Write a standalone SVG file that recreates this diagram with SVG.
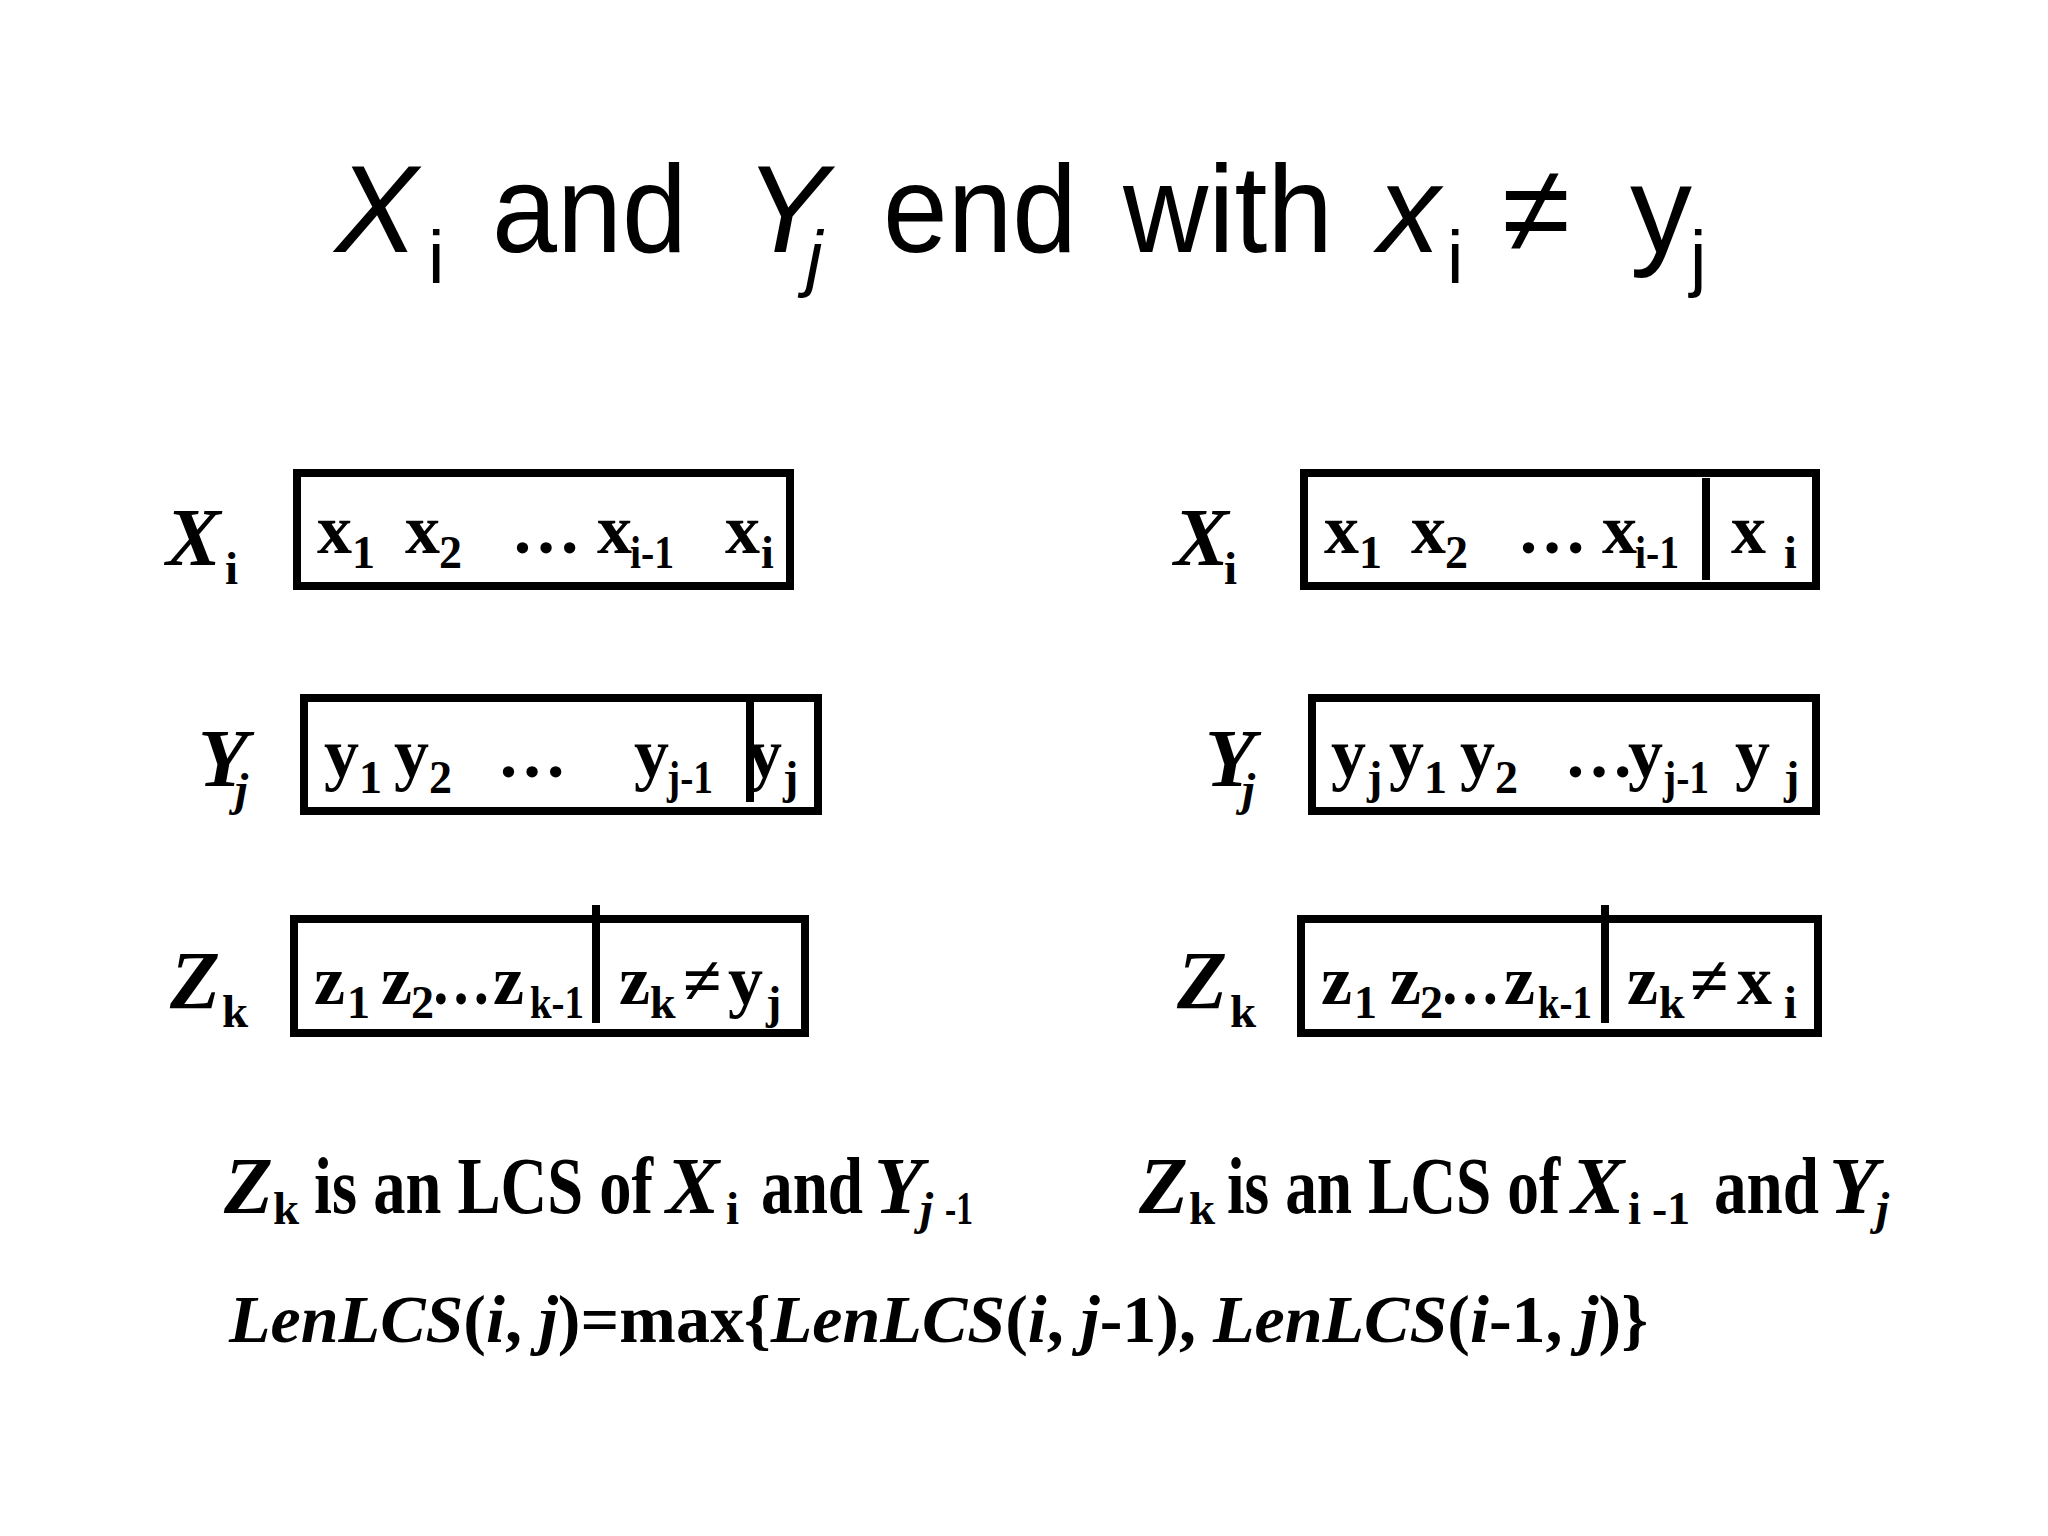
<svg xmlns="http://www.w3.org/2000/svg" width="2048" height="1536" viewBox="0 0 2048 1536">
<style>
.t{font-family:"Liberation Sans",Arial,sans-serif;font-size:124px;fill:#000}
.ts{font-family:"Liberation Sans",Arial,sans-serif;font-size:74px;fill:#000}
.lab{font-family:"Liberation Serif","Times New Roman",serif;font-weight:bold;font-style:italic;font-size:82px;fill:#000}
.lsub{font-family:"Liberation Serif","Times New Roman",serif;font-weight:bold;font-size:47px;fill:#000}
.c{font-family:"Liberation Serif","Times New Roman",serif;font-weight:bold;font-size:70px;fill:#000}
.cs{font-family:"Liberation Serif","Times New Roman",serif;font-weight:bold;font-size:46px;fill:#000}
.cap{font-family:"Liberation Serif","Times New Roman",serif;font-weight:bold;font-size:80px;fill:#000}
.i{font-style:italic}
.box{fill:none;stroke:#000;stroke-width:8}
.div{stroke:#000;stroke-width:8}
</style>
<rect width="2048" height="1536" fill="#fff"/>
<g id="title">
<text class="t i" x="335" y="252">X</text>
<text class="ts" x="428" y="283">i</text>
<text class="t" x="492" y="252" textLength="195" lengthAdjust="spacingAndGlyphs">and</text>
<text class="t i" x="745" y="252">Y</text>
<text class="ts i" x="806" y="283">j</text>
<text class="t" x="883" y="252" textLength="194" lengthAdjust="spacingAndGlyphs">end</text>
<text class="t" x="1123" y="252" textLength="210" lengthAdjust="spacingAndGlyphs">with</text>
<text class="t i" x="1378" y="252">x</text>
<text class="ts" x="1447" y="283">i</text>
<text class="t" x="1502" y="252">≠</text>
<text class="t" x="1630" y="252">y</text>
<text class="ts" x="1690" y="283">j</text>
</g>
<g id="connectors"/>
<g id="left-X">
<text class="lab" x="166" y="565">X</text><text class="lsub" x="225" y="584">i</text>
<rect class="box" x="297" y="473" width="493" height="113"/>
<text class="c" x="317" y="553">x</text><text class="cs" x="352" y="568">1</text>
<text class="c" x="405" y="553">x</text><text class="cs" x="439" y="568">2</text>
<text class="c" x="511" y="553">…</text>
<text class="c" x="597" y="553">x</text><text class="cs" x="630" y="568" textLength="44" lengthAdjust="spacingAndGlyphs">i-1</text>
<text class="c" x="725" y="553">x</text><text class="cs" x="761" y="568">i</text>
</g>
<g id="left-Y">
<text class="lab" x="198" y="786">Y</text><text class="lsub i" x="235" y="805">j</text>
<rect class="box" x="304" y="698" width="514" height="113"/>
<line class="div" x1="750" y1="702" x2="750" y2="802"/>
<text class="c" x="324" y="777">y</text><text class="cs" x="359" y="793">1</text>
<text class="c" x="394" y="777">y</text><text class="cs" x="429" y="793">2</text>
<text class="c" x="497" y="777">…</text>
<text class="c" x="634" y="777">y</text><text class="cs" x="667" y="793" textLength="46" lengthAdjust="spacingAndGlyphs">j-1</text>
<text class="c" x="747" y="777">y</text><text class="cs" x="783" y="793">j</text>
</g>
<g id="left-Z">
<text class="lab" x="170" y="1008">Z</text><text class="lsub" x="222" y="1027">k</text>
<rect class="box" x="294" y="919" width="511" height="114"/>
<line class="div" x1="596" y1="905" x2="596" y2="1023"/>
<text class="c" x="314" y="1004">z</text><text class="cs" x="347" y="1018">1</text>
<text class="c" x="381" y="1004">z</text><text class="cs" x="411" y="1018">2</text>
<text class="c" x="431" y="1004" textLength="60" lengthAdjust="spacingAndGlyphs">…</text>
<text class="c" x="493" y="1004">z</text><text class="cs" x="530" y="1018" textLength="54" lengthAdjust="spacingAndGlyphs">k-1</text>
<text class="c" x="619" y="1004">z</text><text class="cs" x="650" y="1018">k</text>
<text class="c" x="683" y="1004">≠</text>
<text class="c" x="728" y="1004">y</text><text class="cs" x="766" y="1018">j</text>
</g>
<g id="right-X">
<text class="lab" x="1174" y="565">X</text><text class="lsub" x="1224" y="584">i</text>
<rect class="box" x="1304" y="473" width="512" height="113"/>
<line class="div" x1="1706" y1="478" x2="1706" y2="580"/>
<text class="c" x="1324" y="553">x</text><text class="cs" x="1359" y="568">1</text>
<text class="c" x="1411" y="553">x</text><text class="cs" x="1445" y="568">2</text>
<text class="c" x="1517" y="553">…</text>
<text class="c" x="1602" y="553">x</text><text class="cs" x="1635" y="568" textLength="44" lengthAdjust="spacingAndGlyphs">i-1</text>
<text class="c" x="1731" y="553">x</text><text class="cs" x="1784" y="568">i</text>
</g>
<g id="right-Y">
<text class="lab" x="1205" y="786">Y</text><text class="lsub i" x="1242" y="805">j</text>
<rect class="box" x="1312" y="698" width="504" height="113"/>
<text class="c" x="1331" y="777">y</text><text class="cs" x="1367" y="793">j</text>
<text class="c" x="1389" y="777">y</text><text class="cs" x="1424" y="793">1</text>
<text class="c" x="1460" y="777">y</text><text class="cs" x="1495" y="793">2</text>
<text class="c" x="1564" y="777">…</text>
<text class="c" x="1628" y="777">y</text><text class="cs" x="1663" y="793" textLength="46" lengthAdjust="spacingAndGlyphs">j-1</text>
<text class="c" x="1735" y="777">y</text><text class="cs" x="1784" y="793">j</text>
</g>
<g id="right-Z">
<text class="lab" x="1177" y="1008">Z</text><text class="lsub" x="1230" y="1027">k</text>
<rect class="box" x="1301" y="919" width="517" height="114"/>
<line class="div" x1="1605" y1="905" x2="1605" y2="1023"/>
<text class="c" x="1321" y="1004">z</text><text class="cs" x="1354" y="1018">1</text>
<text class="c" x="1390" y="1004">z</text><text class="cs" x="1420" y="1018">2</text>
<text class="c" x="1440" y="1004" textLength="60" lengthAdjust="spacingAndGlyphs">…</text>
<text class="c" x="1504" y="1004">z</text><text class="cs" x="1538" y="1018" textLength="54" lengthAdjust="spacingAndGlyphs">k-1</text>
<text class="c" x="1627" y="1004">z</text><text class="cs" x="1659" y="1018">k</text>
<text class="c" x="1690" y="1004">≠</text>
<text class="c" x="1737" y="1004">x</text><text class="cs" x="1784" y="1018">i</text>
</g>
<g id="caption-left">
<text class="cap i" x="224" y="1213">Z</text><text class="lsub" x="273" y="1224">k</text>
<text class="cap" x="314" y="1213" textLength="339" lengthAdjust="spacingAndGlyphs">is an LCS of</text>
<text class="cap i" x="666" y="1213">X</text><text class="lsub" x="726" y="1224">i</text>
<text class="cap" x="761" y="1213" textLength="102" lengthAdjust="spacingAndGlyphs">and</text>
<text class="cap i" x="874" y="1213">Y</text><text class="lsub i" x="920" y="1224">j</text><text class="lsub" x="945" y="1224" textLength="28" lengthAdjust="spacingAndGlyphs">-1</text>
</g>
<g id="caption-right">
<text class="cap i" x="1139" y="1213">Z</text><text class="lsub" x="1189" y="1224">k</text>
<text class="cap" x="1227" y="1213" textLength="333" lengthAdjust="spacingAndGlyphs">is an LCS of</text>
<text class="cap i" x="1571" y="1213">X</text><text class="lsub" x="1628" y="1224">i</text><text class="lsub" x="1652" y="1224" textLength="38" lengthAdjust="spacingAndGlyphs">-1</text>
<text class="cap" x="1714" y="1213" textLength="105" lengthAdjust="spacingAndGlyphs">and</text>
<text class="cap i" x="1829" y="1213">Y</text><text class="lsub i" x="1876" y="1224">j</text>
</g>
<g id="formula">
<text class="cap" x="229" y="1342" style="font-size:68px" textLength="1419" lengthAdjust="spacingAndGlyphs"><tspan class="i">LenLCS</tspan>(<tspan class="i">i</tspan>, <tspan class="i">j</tspan>)=max{<tspan class="i">LenLCS</tspan>(<tspan class="i">i</tspan>, <tspan class="i">j</tspan>-1), <tspan class="i">LenLCS</tspan>(<tspan class="i">i</tspan>-1, <tspan class="i">j</tspan>)}</text>
</g>
</svg>
